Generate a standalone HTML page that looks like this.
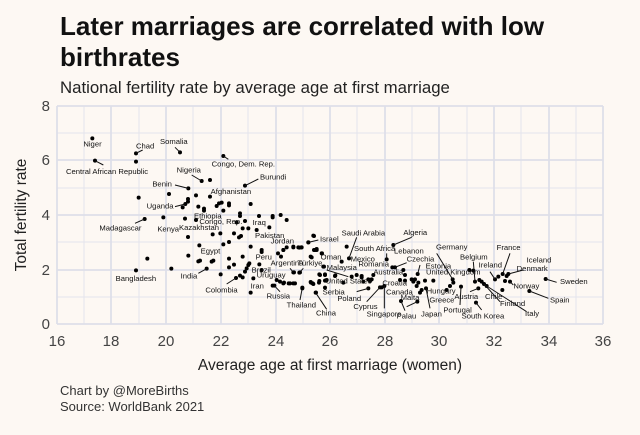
<!DOCTYPE html>
<html><head><meta charset="utf-8"><style>
html,body{margin:0;padding:0;background:#fdf8f3;}
body{width:640px;height:430px;overflow:hidden;font-family:"Liberation Sans",sans-serif;}
</style></head><body>
<svg width="640" height="430" xmlns="http://www.w3.org/2000/svg" font-family="Liberation Sans, sans-serif">
<rect width="640" height="430" fill="#fdf8f3"/>
<text x="60" y="35" font-size="26" font-weight="bold" fill="#111">Later marriages are correlated with low</text>
<text x="60" y="66" font-size="26" font-weight="bold" fill="#111">birthrates</text>
<text x="60" y="93" font-size="16.8" fill="#222">National fertility rate by average age at first marriage</text>
<g stroke="#e4e4ec" stroke-width="1">
<line x1="84" y1="106" x2="84" y2="324"/><line x1="139" y1="106" x2="139" y2="324"/><line x1="193" y1="106" x2="193" y2="324"/><line x1="248" y1="106" x2="248" y2="324"/><line x1="303" y1="106" x2="303" y2="324"/><line x1="357" y1="106" x2="357" y2="324"/><line x1="412" y1="106" x2="412" y2="324"/><line x1="467" y1="106" x2="467" y2="324"/><line x1="521" y1="106" x2="521" y2="324"/><line x1="576" y1="106" x2="576" y2="324"/>
<line x1="57" y1="297" x2="603" y2="297"/><line x1="57" y1="242" x2="603" y2="242"/><line x1="57" y1="188" x2="603" y2="188"/><line x1="57" y1="133" x2="603" y2="133"/>
</g>
<g stroke="#dedfe9" stroke-width="1.8">
<line x1="57" y1="106" x2="57" y2="324"/><line x1="111" y1="106" x2="111" y2="324"/><line x1="166" y1="106" x2="166" y2="324"/><line x1="221" y1="106" x2="221" y2="324"/><line x1="276" y1="106" x2="276" y2="324"/><line x1="330" y1="106" x2="330" y2="324"/><line x1="385" y1="106" x2="385" y2="324"/><line x1="439" y1="106" x2="439" y2="324"/><line x1="494" y1="106" x2="494" y2="324"/><line x1="549" y1="106" x2="549" y2="324"/><line x1="603" y1="106" x2="603" y2="324"/>
<line x1="57" y1="324" x2="603" y2="324"/><line x1="57" y1="270" x2="603" y2="270"/><line x1="57" y1="215" x2="603" y2="215"/><line x1="57" y1="160" x2="603" y2="160"/><line x1="57" y1="106" x2="603" y2="106"/>
</g>
<g font-size="15" fill="#444" text-anchor="middle">
<text x="57" y="346">16</text><text x="111" y="346">18</text><text x="166" y="346">20</text><text x="221" y="346">22</text><text x="276" y="346">24</text><text x="330" y="346">26</text><text x="385" y="346">28</text><text x="439" y="346">30</text><text x="494" y="346">32</text><text x="549" y="346">34</text><text x="603" y="346">36</text>
</g>
<g font-size="15" fill="#444" text-anchor="end">
<text x="50" y="329">0</text><text x="50" y="275">2</text><text x="50" y="220">4</text><text x="50" y="165">6</text><text x="50" y="111">8</text>
</g>
<text x="330" y="370" font-size="15.5" fill="#222" text-anchor="middle">Average age at first marriage (women)</text>
<text transform="translate(26,215) rotate(-90)" font-size="15.5" fill="#222" text-anchor="middle">Total fertility rate</text>
<text x="60" y="395" font-size="13" fill="#333">Chart by @MoreBirths</text>
<text x="60" y="411" font-size="13" fill="#333">Source: WorldBank 2021</text>

<g transform="translate(60,100) scale(0.33333)">
<g fill="#000">
<circle cx="97" cy="115" r="6"/><circle cx="228" cy="160" r="6"/><circle cx="228" cy="185" r="6"/><circle cx="105" cy="182" r="6"/><circle cx="360" cy="157" r="6"/><circle cx="490" cy="168" r="6"/><circle cx="425" cy="243" r="6"/><circle cx="450" cy="240" r="6"/><circle cx="555" cy="257" r="6"/><circle cx="385" cy="265" r="6"/><circle cx="236" cy="293" r="6"/><circle cx="327" cy="282" r="6"/><circle cx="408" cy="286" r="6"/><circle cx="450" cy="290" r="6"/><circle cx="384" cy="297" r="6"/><circle cx="384" cy="305" r="6"/><circle cx="376" cy="312" r="6"/><circle cx="368" cy="322" r="6"/><circle cx="415" cy="320" r="6"/><circle cx="432" cy="326" r="6"/><circle cx="432" cy="332" r="6"/><circle cx="470" cy="318" r="6"/><circle cx="477" cy="310" r="6"/><circle cx="485" cy="308" r="6"/><circle cx="507" cy="310" r="6"/><circle cx="507" cy="316" r="6"/><circle cx="490" cy="332" r="6"/><circle cx="572" cy="312" r="6"/><circle cx="254" cy="357" r="6"/><circle cx="310" cy="352" r="6"/><circle cx="375" cy="356" r="6"/><circle cx="408" cy="360" r="6"/><circle cx="540" cy="340" r="6"/><circle cx="540" cy="348" r="6"/><circle cx="555" cy="363" r="6"/><circle cx="530" cy="367" r="6"/><circle cx="597" cy="348" r="6"/><circle cx="638" cy="348" r="6"/><circle cx="638" cy="352" r="6"/><circle cx="662" cy="345" r="6"/><circle cx="680" cy="360" r="6"/><circle cx="628" cy="382" r="6"/><circle cx="590" cy="390" r="6"/><circle cx="548" cy="385" r="6"/><circle cx="565" cy="385" r="6"/><circle cx="522" cy="400" r="6"/><circle cx="537" cy="412" r="6"/><circle cx="543" cy="408" r="6"/><circle cx="481" cy="400" r="6"/><circle cx="458" cy="403" r="6"/><circle cx="384" cy="411" r="6"/><circle cx="418" cy="436" r="6"/><circle cx="490" cy="433" r="6"/><circle cx="507" cy="426" r="6"/><circle cx="572" cy="440" r="6"/><circle cx="605" cy="450" r="6"/><circle cx="605" cy="456" r="6"/><circle cx="654" cy="460" r="6"/><circle cx="663" cy="470" r="6"/><circle cx="670" cy="450" r="6"/><circle cx="700" cy="440" r="6"/><circle cx="718" cy="443" r="6"/><circle cx="724" cy="442" r="6"/><circle cx="745" cy="427" r="6"/><circle cx="762" cy="408" r="6"/><circle cx="762" cy="450" r="6"/><circle cx="770" cy="447" r="6"/><circle cx="752" cy="470" r="6"/><circle cx="786" cy="460" r="6"/><circle cx="792" cy="500" r="6"/><circle cx="778" cy="523" r="6"/><circle cx="795" cy="523" r="6"/><circle cx="826" cy="526" r="6"/><circle cx="798" cy="542" r="6"/><circle cx="778" cy="543" r="6"/><circle cx="758" cy="550" r="6"/><circle cx="752" cy="546" r="6"/><circle cx="767" cy="578" r="6"/><circle cx="727" cy="563" r="6"/><circle cx="700" cy="550" r="6"/><circle cx="686" cy="550" r="6"/><circle cx="672" cy="548" r="6"/><circle cx="660" cy="545" r="6"/><circle cx="650" cy="540" r="6"/><circle cx="643" cy="557" r="6"/><circle cx="638" cy="557" r="6"/><circle cx="572" cy="578" r="6"/><circle cx="580" cy="535" r="6"/><circle cx="555" cy="515" r="6"/><circle cx="560" cy="505" r="6"/><circle cx="565" cy="495" r="6"/><circle cx="568" cy="490" r="6"/><circle cx="548" cy="470" r="6"/><circle cx="522" cy="494" r="6"/><circle cx="507" cy="476" r="6"/><circle cx="507" cy="502" r="6"/><circle cx="540" cy="527" r="6"/><circle cx="548" cy="532" r="6"/><circle cx="528" cy="534" r="6"/><circle cx="482" cy="523" r="6"/><circle cx="440" cy="506" r="6"/><circle cx="455" cy="485" r="6"/><circle cx="460" cy="482" r="6"/><circle cx="420" cy="482" r="6"/><circle cx="415" cy="484" r="6"/><circle cx="385" cy="467" r="6"/><circle cx="334" cy="506" r="6"/><circle cx="262" cy="476" r="6"/><circle cx="228" cy="511" r="6"/><circle cx="598" cy="493" r="6"/><circle cx="605" cy="510" r="6"/><circle cx="700" cy="517" r="6"/><circle cx="718" cy="518" r="6"/>
</g>
<g font-size="23" fill="#111">
<text x="70" y="140">Niger</text><text x="228" y="145">Chad</text><text x="300" y="132">Somalia</text><text x="18" y="222">Central African Republic</text><text x="455" y="200">Congo, Dem. Rep.</text><text x="350" y="218">Nigeria</text><text x="600" y="238">Burundi</text><text x="277" y="260">Benin</text><text x="452" y="282">Afghanistan</text><text x="260" y="325">Uganda</text><text x="402" y="355">Ethiopia</text><text x="418" y="372">Congo, Rep.</text><text x="578" y="375">Iraq</text><text x="118" y="392">Madagascar</text><text x="292" y="395">Kenya</text><text x="357" y="390">Kazakhstan</text><text x="585" y="414">Pakistan</text><text x="632" y="430">Jordan</text><text x="780" y="425">Israel</text><text x="422" y="460">Egypt</text><text x="587" y="478">Peru</text><text x="632" y="496">Argentina</text><text x="712" y="496">Türkiye</text><text x="575" y="517">Brazil</text><text x="590" y="532">Uruguay</text><text x="362" y="535">India</text><text x="167" y="543">Bangladesh</text><text x="572" y="566">Iran</text><text x="436" y="578">Colombia</text><text x="620" y="596">Russia</text><text x="680" y="623">Thailand</text><text x="768" y="647">China</text>
</g>
<g stroke="#111" stroke-width="3" fill="none">
<path d="M228 160 L248 150 M105 182 L130 195 M360 157 L345 142 M490 168 L505 178 M425 243 L395 225 M555 257 L595 237 M385 265 L345 255 M376 312 L345 320 M254 357 L225 370 M440 506 L415 520 M528 534 L500 552 M643 557 L660 575 M727 563 L720 600 M767 578 L800 628 M745 427 L775 420 M700 517 L690 505 M718 518 L730 505"/>
</g>
</g>

<g transform="translate(280,220) scale(0.33333)">
<g fill="#000">
<circle cx="100" cy="47" r="6"/><circle cx="85" cy="67" r="6"/><circle cx="65" cy="82" r="6"/><circle cx="55" cy="82" r="6"/><circle cx="40" cy="82" r="6"/><circle cx="20" cy="82" r="6"/><circle cx="10" cy="90" r="6"/><circle cx="105" cy="90" r="6"/><circle cx="110" cy="90" r="6"/><circle cx="125" cy="100" r="6"/><circle cx="200" cy="80" r="6"/><circle cx="207" cy="115" r="6"/><circle cx="185" cy="125" r="6"/><circle cx="95" cy="112" r="6"/><circle cx="130" cy="140" r="6"/><circle cx="120" cy="165" r="6"/><circle cx="135" cy="165" r="6"/><circle cx="165" cy="168" r="6"/><circle cx="135" cy="182" r="6"/><circle cx="117" cy="188" r="6"/><circle cx="93" cy="188" r="6"/><circle cx="100" cy="192" r="6"/><circle cx="108" cy="218" r="6"/><circle cx="135" cy="203" r="6"/><circle cx="42" cy="157" r="6"/><circle cx="60" cy="157" r="6"/><circle cx="45" cy="190" r="6"/><circle cx="30" cy="190" r="6"/><circle cx="10" cy="190" r="6"/><circle cx="67" cy="205" r="6"/><circle cx="230" cy="165" r="6"/><circle cx="245" cy="168" r="6"/><circle cx="250" cy="185" r="6"/><circle cx="265" cy="178" r="6"/><circle cx="270" cy="183" r="6"/><circle cx="275" cy="178" r="6"/><circle cx="280" cy="165" r="6"/><circle cx="320" cy="118" r="6"/><circle cx="337" cy="142" r="6"/><circle cx="345" cy="142" r="6"/><circle cx="370" cy="150" r="6"/><circle cx="340" cy="75" r="6"/><circle cx="413" cy="162" r="6"/><circle cx="375" cy="182" r="6"/><circle cx="395" cy="178" r="6"/><circle cx="400" cy="185" r="6"/><circle cx="405" cy="178" r="6"/><circle cx="415" cy="188" r="6"/><circle cx="435" cy="182" r="6"/><circle cx="460" cy="182" r="6"/><circle cx="410" cy="198" r="6"/><circle cx="425" cy="210" r="6"/><circle cx="438" cy="205" r="6"/><circle cx="420" cy="218" r="6"/><circle cx="300" cy="202" r="6"/><circle cx="305" cy="202" r="6"/><circle cx="313" cy="198" r="6"/><circle cx="265" cy="205" r="6"/><circle cx="363" cy="243" r="6"/><circle cx="412" cy="245" r="6"/><circle cx="518" cy="178" r="6"/><circle cx="520" cy="188" r="6"/><circle cx="510" cy="198" r="6"/><circle cx="500" cy="210" r="6"/><circle cx="543" cy="200" r="6"/><circle cx="568" cy="150" r="6"/><circle cx="585" cy="185" r="6"/><circle cx="580" cy="152" r="6"/><circle cx="598" cy="180" r="6"/><circle cx="605" cy="185" r="6"/><circle cx="612" cy="192" r="6"/><circle cx="620" cy="198" r="6"/><circle cx="595" cy="205" r="6"/><circle cx="588" cy="248" r="6"/><circle cx="645" cy="178" r="6"/><circle cx="655" cy="170" r="6"/><circle cx="668" cy="162" r="6"/><circle cx="685" cy="162" r="6"/><circle cx="680" cy="168" r="6"/><circle cx="675" cy="183" r="6"/><circle cx="690" cy="185" r="6"/><circle cx="667" cy="210" r="6"/><circle cx="748" cy="213" r="6"/><circle cx="797" cy="177" r="6"/><circle cx="140" cy="180" r="6"/><circle cx="190" cy="188" r="6"/><circle cx="215" cy="170" r="6"/><circle cx="245" cy="172" r="6"/><circle cx="360" cy="180" r="6"/><circle cx="375" cy="165" r="6"/>
</g>
<g font-size="23" fill="#111">
<text x="185" y="47">Saudi Arabia</text><text x="370" y="45">Algeria</text><text x="222" y="93">South Africa</text><text x="342" y="100">Lebanon</text><text x="122" y="118">Oman</text><text x="212" y="125">Mexico</text><text x="380" y="125">Czechia</text><text x="235" y="140">Romania</text><text x="140" y="150">Malaysia</text><text x="437" y="145">Estonia</text><text x="280" y="163">Australia</text><text x="438" y="163">United Kingdom</text><text x="137" y="190">United States</text><text x="307" y="196">Croatia</text><text x="128" y="223">Serbia</text><text x="318" y="223">Canada</text><text x="440" y="220">Hungary</text><text x="362" y="240">Malta</text><text x="172" y="243">Poland</text><text x="448" y="248">Greece</text><text x="220" y="267">Cyprus</text><text x="260" y="290">Singapore</text><text x="350" y="295">Palau</text><text x="423" y="290">Japan</text><text x="490" y="278">Portugal</text><text x="545" y="295">South Korea</text><text x="523" y="237">Austria</text><text x="615" y="237">Chile</text><text x="660" y="258">Finland</text><text x="735" y="288">Italy</text><text x="468" y="88">Germany</text><text x="540" y="118">Belgium</text><text x="650" y="90">France</text><text x="596" y="143">Ireland</text><text x="740" y="127">Iceland</text><text x="710" y="153">Denmark</text><text x="700" y="205">Norway</text><text x="840" y="192">Sweden</text><text x="810" y="247">Spain</text>
</g>
<g stroke="#111" stroke-width="3" fill="none">
<path d="M340 75 L395 52 M207 115 L230 52 M320 118 L320 100 M345 142 L380 128 M413 162 L420 135 M265 205 L230 215 M300 202 L260 245 M313 198 L313 265 M363 243 L375 272 M412 245 L380 260 M438 205 L450 265 M543 200 L540 255 M588 248 L605 270 M518 178 L470 100 M585 185 L580 125 M645 178 L630 155 M668 162 L690 100 M685 162 L730 150 M690 185 L700 195 M748 213 L805 235 M797 177 L830 187 M620 198 L740 275 M612 192 L660 245 M595 205 L570 215 M205 170 L140 150"/>
</g>
</g>
</svg>
</body></html>
